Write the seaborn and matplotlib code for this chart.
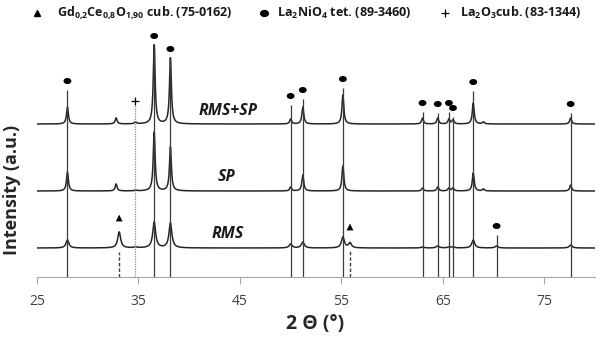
import matplotlib
matplotlib.use('Agg')
import matplotlib.pyplot as plt
import numpy as np
import pandas as pd
import seaborn as sns
from matplotlib.path import Path
from matplotlib.lines import Line2D

sns.set_style('white')
plt.rcParams['font.family'] = ['Open Sans', 'DejaVu Sans']
plt.rcParams['mathtext.fontset'] = 'custom'
plt.rcParams['mathtext.rm'] = 'Open Sans'
plt.rcParams['mathtext.bf'] = 'Open Sans:bold'

# peak positions (2 theta) and heights, per sample
peak_pos = [28.0, 32.8, 33.1, 34.7, 36.55, 38.15, 50.0, 51.2, 55.15, 55.85,
            63.0, 64.5, 65.6, 66.0, 68.0, 69.0, 70.3, 77.6]
h_rmssp = [17, 6, 0, 2, 79, 66, 5, 17, 29, 0, 6, 6, 5, 4, 21, 2, 0, 6]
h_sp = [19, 7, 0, 1, 59, 44, 4, 16, 25, 0, 3, 4, 3, 3, 18, 2, 0, 6]
h_rms = [8, 0, 16, 1, 26, 25, 4, 6, 11, 5, 1, 2, 1, 1, 8, 0, 2, 3]
samples = ['RMS+SP', 'SP', 'RMS']
offsets = [153, 86, 29]
widths = [0.22, 0.22, 0.34]

# reference patterns
ln_pos = [28.0, 36.55, 38.15, 50.0, 51.2, 55.15, 63.0, 64.5, 65.6, 66.0, 68.0, 77.6, 70.3]
ln_top = [187, 232, 219, 172, 178, 189, 165, 164, 165, 160, 186, 164, 42]
gdc_pos = [33.1, 55.85]
gdc_top = [25, 27]
gdc_mark = [59, 50]
la2o3_pos = [34.7]
la2o3_top = [172]

xticks = [25, 35, 45, 55, 65, 75]


def pattern(tt, heights, w):
    y = np.zeros_like(tt)
    for p, h in zip(peak_pos, heights):
        y += h / (1 + ((tt - p) / (w / 2)) ** 2)
    return y


fig = plt.figure(figsize=(6.01, 3.38), dpi=100)
ax = fig.add_axes([37 / 601, 61 / 338, 558 / 601, 257 / 338])

tt = np.linspace(25, 80, 4000)
for name, hs, off, w in zip(samples, [h_rmssp, h_sp, h_rms], offsets, widths):
    sns.lineplot(x=tt, y=pattern(tt, hs, w) + off, ax=ax, color='#262626', lw=1.1)

# reference lines
ax.vlines(ln_pos, 0, ln_top, color='#3a3a3a', lw=0.9)
ax.vlines(gdc_pos, 0, gdc_top, color='#3a3a3a', lw=1.0, linestyles=(0, (2.5, 1.5)))
ax.vlines(la2o3_pos, 0, la2o3_top, color='#8a8a8a', lw=0.9, linestyles=(0, (1, 1)))

t = np.linspace(0, 2 * np.pi, 40)
ellipse = Path(np.column_stack([1.3 * np.cos(t), np.sin(t)]))

marks = pd.DataFrame({'x': ln_pos, 'y': [v + 9 for v in ln_top]})
sns.scatterplot(data=marks, x='x', y='y', ax=ax, marker=ellipse, s=32, color='black',
                edgecolor='none', clip_on=False)
sns.scatterplot(x=gdc_pos, y=gdc_mark, ax=ax, marker='^', s=24, color='black',
                edgecolor='none')
sns.scatterplot(x=la2o3_pos, y=[v + 4 for v in la2o3_top], ax=ax, marker='+', s=40,
                color='black', linewidth=0.9)

# sample labels
lab_kw = dict(ha='center', va='center', fontsize=11.5, fontweight='bold', style='italic',
              color='#1a1a1a')
ax.text(43.8, 166, 'RMS+SP', **lab_kw)
ax.text(43.7, 100, 'SP', **lab_kw)
ax.text(43.8, 43, 'RMS', **lab_kw)

ax.set_xlim(25, 80)
ax.set_ylim(0, 257)
ax.set_xticks(xticks)
ax.set_yticks([])
ax.set_xlabel('')
ax.set_ylabel('')
for s in ['top', 'right', 'left']:
    ax.spines[s].set_visible(False)
ax.spines['bottom'].set_color('#a6a6a6')
ax.tick_params(axis='x', direction='out', length=5, color='#a6a6a6',
               labelsize=10, labelcolor='#404040', pad=7, bottom=True)

fig.text(12 / 601, 1 - 190 / 338, 'Intensity (a.u.)', rotation=90, ha='center',
         va='center', fontsize=13, fontweight='bold')
fig.text(315 / 601, 1 - 324 / 338, '2 Θ (°)', ha='center', va='center',
         fontsize=14, fontweight='bold')

# legend across the top
ly = 1 - 13 / 338
fig.add_artist(Line2D([37 / 601], [ly], marker='^', color='black', ms=5, ls='none'))
fig.text(57 / 601, ly, r'$\mathbf{Gd_{0{,}2}Ce_{0{,}8}O_{1{,}90}}$ cub. (75-0162)',
         ha='left', va='center', fontsize=9, fontweight='bold', color='#1a1a1a')
fig.add_artist(Line2D([264 / 601], [ly], marker=ellipse, color='black', ms=5.5, ls='none'))
fig.text(277 / 601, ly, r'$\mathbf{La_{2}NiO_{4}}$ tet. (89-3460)',
         ha='left', va='center', fontsize=9, fontweight='bold', color='#1a1a1a')
fig.add_artist(Line2D([445 / 601], [ly], marker='+', color='black', ms=6, mew=0.9, ls='none'))
fig.text(460 / 601, ly, r'$\mathbf{La_{2}O_{3}}$cub. (83-1344)',
         ha='left', va='center', fontsize=9, fontweight='bold', color='#1a1a1a')

fig.savefig('out.png', dpi=100)
